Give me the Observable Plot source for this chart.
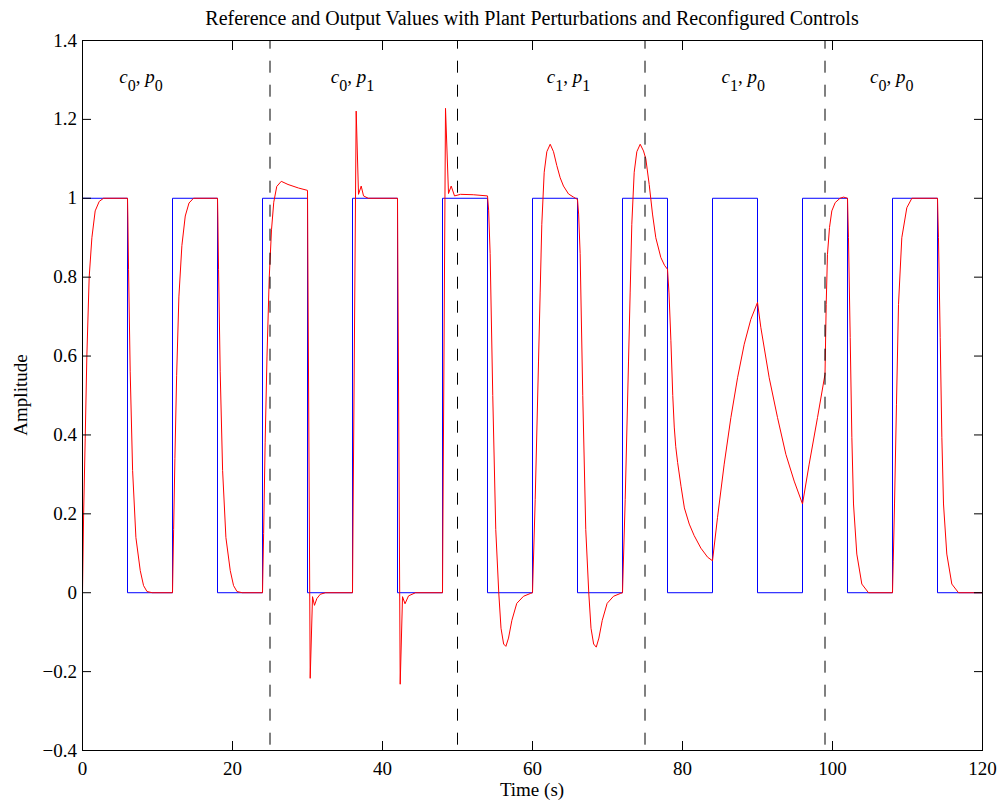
<!DOCTYPE html>
<html>
<head>
<meta charset="utf-8">
<script src="https://cdn.jsdelivr.net/npm/d3@7"></script>
<script src="https://cdn.jsdelivr.net/npm/@observablehq/plot@0.6"></script>
<style>
  html, body { margin: 0; padding: 0; background: #fff; }
  #title {
    height: 30px; line-height: 36px; overflow: visible;
    box-sizing: border-box; padding-left: 82px; padding-right: 18px;
    text-align: center; font-family: "Liberation Serif", serif; font-size: 20px; color: #000;
    white-space: nowrap;
  }
  #chart svg { display: block; }
</style>
</head>
<body>
<div id="title">Reference and Output Values with Plant Perturbations and Reconfigured Controls</div>
<div id="chart"></div>
<script>
// ---- Reference (blue square wave): switching instants and levels ----
const refTimes  = [0, 6, 12, 18, 24, 30, 36, 42, 48, 54, 60, 66, 72, 78, 84, 90, 96, 102, 108, 114, 120];
const refLevels = [1, 0, 1,  0,  1,  0,  1,  0,  1,  0,  1,  0,  1,  0,  1,  0,  1,  0,   1,   0,   1];

// ---- Plant output (red): [time (s), amplitude] ----
const outputSamples = [
  [0, 0], [0.15, 0.2], [0.36, 0.39], [0.58, 0.6], [0.89, 0.8], [1.25, 0.9], [1.69, 0.968], [2.23, 0.992], [2.8, 1.0], [6.0, 1.0],
  [6.05, 0.95], [6.14, 0.82], [6.36, 0.56], [6.68, 0.31], [7.12, 0.14], [7.7, 0.056], [8.14, 0.018], [8.6, 0.003], [9.3, 0], [12.0, 0],
  [12.15, 0.16], [12.32, 0.34], [12.55, 0.55], [12.85, 0.75], [13.25, 0.88], [13.7, 0.955], [14.2, 0.988], [14.8, 1.0], [18.0, 1.0],
  [18.05, 0.95], [18.14, 0.82], [18.36, 0.56], [18.68, 0.31], [19.12, 0.14], [19.7, 0.056], [20.14, 0.018], [20.6, 0.003], [21.3, 0], [24.0, 0],
  [24.15, 0.15], [24.35, 0.38], [24.6, 0.6], [24.9, 0.8], [25.2, 0.92], [25.5, 0.99], [25.9, 1.03], [26.5, 1.043], [27.4, 1.035], [28.8, 1.026], [30.0, 1.02],
  [30.36, -0.217], [30.67, -0.01], [30.93, -0.032], [31.24, -0.015], [31.69, -0.004], [32.4, 0], [36.0, 0],
  [36.49, 1.221], [36.8, 1.01], [37.16, 1.031], [37.47, 1.006], [38.1, 1.0], [42.0, 1.0],
  [42.36, -0.232], [42.67, -0.01], [43.0, -0.028], [43.47, -0.008], [44.4, 0], [48.0, 0],
  [48.4, 1.228], [48.8, 1.012], [49.16, 1.031], [49.6, 1.006], [50.4, 1.01], [52.1, 1.009], [54.0, 1.006],
  [54.15, 0.97], [54.35, 0.86], [54.7, 0.5], [55.1, 0.16], [55.5, 0], [55.8, -0.09], [56.15, -0.13], [56.45, -0.136], [56.8, -0.115], [57.25, -0.07], [57.9, -0.027], [58.8, -0.009], [59.7, -0.002], [60.0, 0],
  [60.36, 0.236], [60.58, 0.41], [60.8, 0.585], [61.02, 0.76], [61.24, 0.934], [61.56, 1.066], [61.91, 1.118], [62.36, 1.137], [62.8, 1.118], [63.24, 1.083], [63.69, 1.052], [64.13, 1.031], [64.8, 1.011], [65.47, 1.003], [66.0, 0.997],
  [66.15, 0.96], [66.35, 0.86], [66.7, 0.5], [67.1, 0.16], [67.5, 0], [67.8, -0.09], [68.15, -0.13], [68.5, -0.138], [68.85, -0.115], [69.3, -0.07], [69.95, -0.027], [70.8, -0.009], [71.7, -0.002], [72.0, 0],
  [72.36, 0.236], [72.58, 0.41], [72.8, 0.585], [73.02, 0.76], [73.24, 0.934], [73.56, 1.066], [73.91, 1.118], [74.36, 1.137], [74.8, 1.12], [75.11, 1.1], [75.56, 1.035], [76.0, 0.96], [76.44, 0.9], [77.11, 0.85], [77.6, 0.83], [78.0, 0.82],
  [78.2, 0.76], [78.45, 0.64], [78.7, 0.5], [78.9, 0.42], [79.1, 0.37], [79.35, 0.33], [79.8, 0.27], [80.25, 0.215], [80.9, 0.174], [81.55, 0.145], [82.45, 0.113], [83.35, 0.09], [84.0, 0.081],
  [84.67, 0.191], [85.56, 0.326], [86.45, 0.444], [87.34, 0.545], [88.23, 0.63], [89.11, 0.693], [90.0, 0.736],
  [90.44, 0.673], [91.56, 0.545], [92.67, 0.444], [93.78, 0.351], [94.89, 0.283], [96.0, 0.225],
  [96.89, 0.326], [98.0, 0.444], [99.0, 0.554],
  [99.16, 0.731], [99.33, 0.858], [99.6, 0.926], [99.91, 0.968], [100.36, 0.989], [101.0, 1.0], [101.47, 1.003], [102.0, 1.0],
  [102.13, 0.9], [102.36, 0.647], [102.58, 0.394], [102.8, 0.225], [103.24, 0.098], [103.91, 0.022], [104.8, 0], [108.0, 0],
  [108.1, 0.08], [108.27, 0.225], [108.53, 0.478], [108.8, 0.731], [109.24, 0.9], [109.91, 0.976], [110.58, 1.0], [114.0, 1.0],
  [114.13, 0.9], [114.36, 0.647], [114.58, 0.394], [114.8, 0.225], [115.24, 0.098], [115.91, 0.022], [116.8, 0], [120.0, 0]
];

// ---- Controller / plant reconfiguration instants and region labels ----
const switchTimes = [25, 50, 75, 99];
const labelTimes  = [7.8, 36, 64.8, 88.1, 107.9];
const labelCtrl   = [0, 0, 1, 1, 0];
const labelPlant  = [0, 1, 1, 0, 0];
const labelAmplitude = 1.3;

// ---- Axes ----
const xTicks = [0, 20, 40, 60, 80, 100, 120];
const yTicks = [-0.4, -0.2, 0, 0.2, 0.4, 0.6, 0.8, 1, 1.2, 1.4];
const xLabel = "Time (s)";
const yLabel = "Amplitude";

const refData = refTimes.map((t, i) => ({t, v: refLevels[i]}));
const outData = outputSamples.map(([t, v]) => ({t, v}));
const labels = labelTimes.map((t, i) => ({t, v: labelAmplitude, text: `c${labelCtrl[i]}, p${labelPlant[i]}`}));

const fmt = d => (d < 0 ? "\u2212" : "") + String(Math.abs(d));
const FONT = "Liberation Serif";

const svg = Plot.plot({
  width: 1000,
  height: 776,
  marginLeft: 82,
  marginRight: 18,
  marginTop: 10,
  marginBottom: 56,
  style: {fontFamily: FONT, fontSize: "19px", background: "#fff", color: "#000"},
  x: {domain: [0, 120]},
  y: {domain: [-0.4, 1.4]},
  marks: [
    Plot.line(refData, {x: "t", y: "v", curve: "step-after", stroke: "#0000ff", strokeWidth: 1}),
    Plot.line(outData, {x: "t", y: "v", stroke: "#ff0000", strokeWidth: 1}),
    Plot.ruleX(switchTimes, {stroke: "#000", strokeWidth: 1, strokeDasharray: "12,12", strokeDashoffset: 3.3}),
    Plot.text(labels, {x: "t", y: "v", text: "text", textAnchor: "middle", fontSize: 19, dy: -3, fill: "#000"}),
    Plot.axisX({anchor: "bottom", ticks: xTicks, tickSize: -9, tickPadding: 20.2, tickFormat: fmt, fontSize: 19, label: null}),
    Plot.axisX({anchor: "top", ticks: xTicks, tickSize: -9, tickFormat: () => "", label: null}),
    Plot.axisY({anchor: "left", ticks: yTicks, tickSize: -9, tickPadding: 14.6, tickFormat: fmt, fontSize: 19, label: null}),
    Plot.axisY({anchor: "right", ticks: yTicks, tickSize: -9, tickFormat: () => "", label: null}),
    Plot.frame({stroke: "#000", strokeWidth: 1})
  ]
});

// Region labels: italic letters with lowered upright subscripts
d3.select(svg).selectAll('g[aria-label="text"] text').each(function () {
  const m = /c(\d), p(\d)/.exec(this.textContent);
  if (!m) return;
  const t = d3.select(this);
  t.text(null);
  t.append("tspan").attr("font-style", "italic").text("c");
  t.append("tspan").attr("dy", 8).attr("font-size", 16).text(m[1]);
  t.append("tspan").attr("dy", -8).text(", ");
  t.append("tspan").attr("font-style", "italic").text("p");
  t.append("tspan").attr("dy", 8).attr("font-size", 16).text(m[2]);
});

// Axis titles
const s = d3.select(svg);
s.append("text")
  .attr("x", 82 + 900 / 2).attr("y", 766)
  .attr("text-anchor", "middle").attr("font-family", FONT).attr("font-size", 19).attr("fill", "#000")
  .text(xLabel);
s.append("text")
  .attr("transform", "translate(27,365) rotate(-90)")
  .attr("text-anchor", "middle").attr("font-family", FONT).attr("font-size", 19).attr("fill", "#000")
  .text(yLabel);

document.getElementById("chart").appendChild(svg);
</script>
</body>
</html>
